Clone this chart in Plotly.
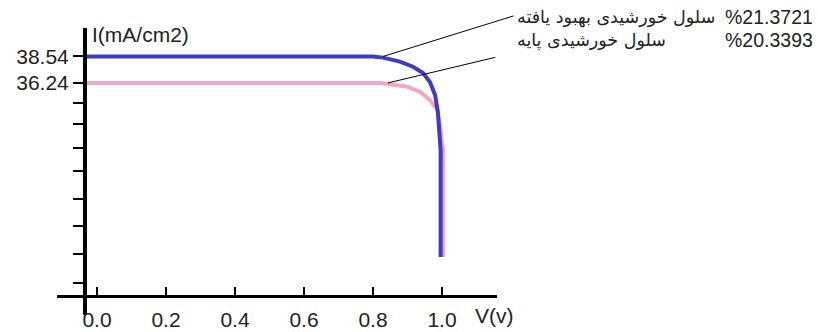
import plotly.graph_objects as go

# Data
v_improved = [-0.03, 0.80, 0.829, 0.878, 0.916, 0.945, 0.965, 0.980, 0.988, 0.991, 0.996, 0.996]
i_improved = [38.54, 38.54, 38.44, 38.09, 37.65, 37.11, 36.33, 35.20, 33.72, 32.59, 30.42, 21.13]

v_base = [-0.03, 0.82, 0.849, 0.899, 0.936, 0.965, 0.986, 0.994, 1.003, 1.003]
i_base = [36.24, 36.24, 36.13, 35.92, 35.48, 34.76, 33.90, 32.59, 30.42, 21.13]

x_tickvals = [0.0, 0.2, 0.4, 0.6, 0.8, 1.0]
x_ticktext = ["0.0", "0.2", "0.4", "0.6", "0.8", "1.0"]
y_tickvals = [38.54, 36.24, 34.50, 32.68, 30.60, 28.60, 26.17, 23.83, 21.40, 18.88]
y_ticktext = ["38.54", "36.24", "", "", "", "", "", "", "", ""]

label_improved = "سلول خورشیدی بهبود یافته"
label_base = "سلول خورشیدی پایه"
eff_improved = "%21.3721"
eff_base = "%20.3393"

fig = go.Figure()
fig.add_trace(go.Scatter(x=v_base, y=i_base, mode="lines",
                         line=dict(color="#f2a5c5", width=4), showlegend=False))
fig.add_trace(go.Scatter(x=v_improved, y=i_improved, mode="lines",
                         line=dict(color="#3d3dbd", width=4), showlegend=False))

font_num = dict(family="Liberation Sans, Arial, sans-serif", size=21, color="#222")
font_eff = dict(family="Liberation Sans, Arial, sans-serif", size=19.5, color="#222")
font_fa = dict(family="DejaVu Sans, sans-serif", size=17.5, color="#222")

fig.update_layout(
    width=818, height=332,
    margin=dict(l=57, r=321, t=28, b=17, autoexpand=False),
    paper_bgcolor="white", plot_bgcolor="white",
    xaxis=dict(range=[-0.1159, 1.1594], anchor="free", position=0.0662,
               automargin=False,
               showline=True, linecolor="black", linewidth=3,
               ticks="inside", ticklen=8, tickwidth=1.5, tickcolor="black",
               tickvals=x_tickvals, ticktext=x_ticktext, ticklabelstandoff=4,
               showgrid=False, zeroline=False, tickfont=font_num),
    yaxis=dict(range=[16.10, 41.01], anchor="free", position=0.0636,
               automargin=False,
               showline=True, linecolor="black", linewidth=4,
               ticks="outside", ticklen=10, tickwidth=1.5, tickcolor="black",
               tickvals=y_tickvals, ticktext=y_ticktext,
               showgrid=False, zeroline=False, tickfont=font_num),
)

annotations = [
    dict(x=0.829, y=38.54, xref="x", yref="y", ax=132, ay=-41, text="",
         showarrow=True, arrowhead=0, arrowwidth=1, arrowcolor="black", standoff=0),
    dict(x=0.843, y=36.24, xref="x", yref="y", ax=109, ay=-26, text="",
         showarrow=True, arrowhead=0, arrowwidth=1, arrowcolor="black", standoff=0),
    dict(x=0.075, y=0.979, xref="paper", yref="paper", xanchor="left", yanchor="middle",
         text="I(mA/cm2)", showarrow=False, font=font_num),
    dict(x=0.945, y=-0.003, xref="paper", yref="paper", xanchor="left", yanchor="middle",
         text="V(v)", showarrow=False, font=font_num),
    dict(x=1.041, y=1.038, xref="paper", yref="paper", xanchor="left", yanchor="middle",
         text=label_improved, showarrow=False, font=font_fa),
    dict(x=1.041, y=0.958, xref="paper", yref="paper", xanchor="left", yanchor="middle",
         text=label_base, showarrow=False, font=font_fa),
    dict(x=1.7227, y=1.038, xref="paper", yref="paper", xanchor="right", yanchor="middle",
         text=eff_improved, showarrow=False, font=font_eff),
    dict(x=1.7227, y=0.958, xref="paper", yref="paper", xanchor="right", yanchor="middle",
         text=eff_base, showarrow=False, font=font_eff),
]
fig.update_layout(annotations=annotations)

fig.write_html("out.html", config={"displayModeBar": False},
               post_script="document.body.style.margin='0';document.body.style.overflow='hidden';")
